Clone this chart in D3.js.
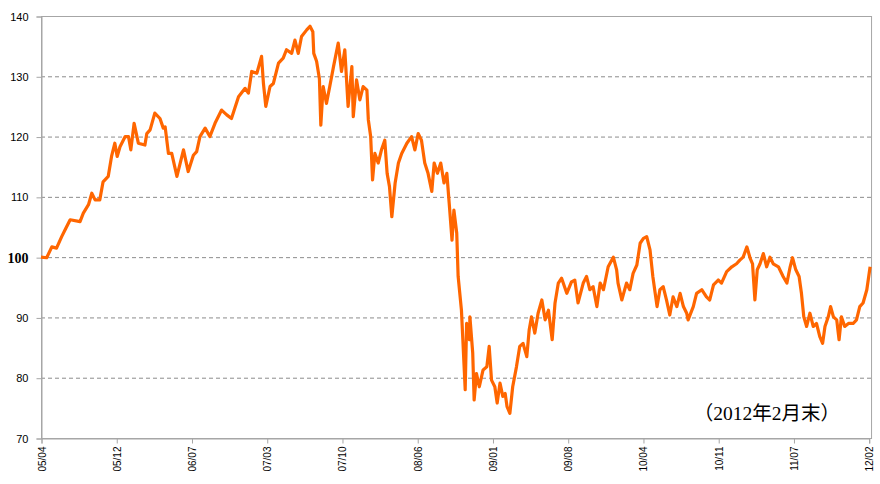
<!DOCTYPE html>
<html><head><meta charset="utf-8">
<script src="https://cdn.jsdelivr.net/npm/d3@7"></script>
<style>body{margin:0;background:#fff;}svg{display:block;}</style>
</head><body>
<svg id="c" width="880" height="484"></svg>
<script>
// trading-day index (ticks every 160 observations) and index level
const dayIndex = [0,12,23,33,44,51,62,83,90,101,108,115,125,132,143,150,157,162,168,179,186,191,198,207,221,225,232,242,253,260,264,271,278,289,296,303,313,324,331,338,349,359,370,384,395,405,420,434,441,448,459,469,473,478,487,494,505,515,522,533,540,547,554,565,572,578,580,586,592,595,600,607,614,622,632,639,646,653,661,664,671,678,685,693,696,701,705,710,717,724,731,736,741,746,753,760,767,778,788,795,802,809,816,823,831,836,843,850,857,863,868,874,878,884,887,894,897,902,905,911,912,918,921,926,932,940,948,953,958,965,970,976,982,987,991,997,1003,1011,1018,1025,1033,1038,1043,1050,1057,1065,1072,1079,1087,1093,1100,1107,1118,1128,1135,1142,1153,1160,1167,1174,1182,1189,1196,1206,1217,1224,1227,1235,1245,1252,1259,1267,1274,1281,1288,1295,1301,1306,1310,1316,1323,1330,1337,1344,1352,1359,1366,1373,1376,1387,1394,1405,1415,1422,1430,1440,1447,1458,1469,1479,1486,1493,1501,1508,1513,1518,1523,1529,1536,1543,1550,1557,1568,1578,1586,1593,1598,1605,1612,1617,1622,1628,1635,1642,1649,1656,1662,1667,1674,1679,1685,1692,1697,1702,1709,1717,1727,1734,1741,1748,1756,1763];
const level = [100,99.9,101.7,101.5,103.4,104.5,106.2,105.9,107.3,108.7,110.6,109.5,109.5,112.5,113.4,116.7,118.9,116.7,118.3,120,120,117.8,122.2,118.9,118.6,120.5,121.1,123.9,123,121.4,121.6,117.2,117.2,113.4,115.6,117.8,114.2,116.9,117.5,120,121.4,120,122.2,124.4,123.6,123,126.6,128,127.2,130.8,130.5,133.3,128.8,125,128.3,128.8,132.2,133,134.4,133.8,136,133.8,136.6,137.7,138.3,137.4,133.8,132.5,129.6,121.9,128.3,125.5,128.3,131.6,135.5,130.8,134.4,125,131.6,123.3,129.4,126.1,128.3,127.7,122.8,120,112.8,117.2,115.6,117.8,119.4,113.9,111.7,106.7,112.3,115.6,117.2,118.9,120,117.8,120.5,119.4,115.6,113.9,110.9,115.6,113.9,115.6,112.3,113.9,108.9,102.8,107.8,104,96.8,91.2,86.3,78,89,86.3,90.1,84.1,76.3,80.7,78.5,81.3,81.8,85.2,79.6,78.5,75.8,79.1,76.9,77.4,75.2,74.1,78.5,81.8,85.2,85.7,83.5,87.9,90.1,87.4,90.7,92.9,89.6,91.2,86.3,92.4,95.7,96.5,94,95.9,96.2,92.4,95.7,96.8,94.6,95.1,91.8,95.7,94.6,98.4,100,97.9,95.7,92.9,95.7,94.6,97.3,98.7,102.3,103.1,103.4,101.2,96.8,94,91.8,94.6,95.1,92.9,90.4,93.4,91.8,94,91.8,90.7,89.6,91.8,94,94.6,93.4,92.9,95.4,96.2,95.7,97.6,98.4,98.9,99.5,100,101.7,99.8,98.9,92.9,97.9,98.9,100.6,98.4,100,98.9,98.4,96.8,95.7,98.4,99.9,97.9,96.8,94,90.1,88.5,90.7,88.5,89,86.8,85.7,88.5,90.1,91.8,90.1,89.6,86.3,90.1,88.5,89,89,89.6,91.8,92.4,94.6,98.4];
const tickLabels = ["05/04","05/12","06/07","07/03","07/10","08/06","09/01","09/08","10/04","10/11","11/07","12/02"];
const tickStep = 160;
const yTicks = [70,80,90,100,110,120,130,140];
const gridValues = [80,90,100,110,120,130];
const note = "（2012年2月末）";

const svg = d3.select("#c");
const mLeft = 41, mTop = 16, mBottom = 438;
const x = d3.scaleLinear().domain([0, tickStep*(tickLabels.length-1)]).range([mLeft, 868.7]);
const mRight = x(1765);
const y = d3.scaleLinear().domain([70,140]).range([mBottom, mTop]);

// grid
svg.append("g").selectAll("line").data(gridValues).join("line")
  .attr("x1", mLeft).attr("x2", mRight)
  .attr("y1", d=>y(d)+0.5).attr("y2", d=>y(d)+0.5)
  .attr("stroke", "#8c8c8c").attr("stroke-width", 1).attr("stroke-dasharray", "4,3");

// frame
svg.append("rect").attr("x", mLeft+0.5).attr("y", mTop+0.5)
  .attr("width", mRight-mLeft).attr("height", mBottom-mTop)
  .attr("fill", "none").attr("stroke", "#a6a6a6").attr("stroke-width", 1);

// y axis
const yAxis = d3.axisLeft(y).tickValues(yTicks).tickSize(5).tickPadding(8);
const gy = svg.append("g").attr("transform", `translate(${mLeft+0.5},0.5)`).call(yAxis);
gy.select(".domain").attr("stroke", "#a6a6a6");
gy.selectAll(".tick line").attr("stroke", "#a6a6a6");
gy.selectAll(".tick text").attr("fill", "#000")
  .style("font-family", "Arial, 'Liberation Sans', sans-serif").style("font-size", "11px")
  .filter(d => d === 100)
  .style("font-family", "'Times New Roman', 'Liberation Serif', serif")
  .style("font-weight", "bold").style("font-size", "14px");

// x axis
const xAxis = d3.axisBottom(x)
  .tickValues(tickLabels.map((d,i)=>i*tickStep))
  .tickFormat((d,i)=>tickLabels[i]).tickSize(5).tickPadding(4);
const gx = svg.append("g").attr("transform", `translate(0.5,${mBottom+0.5})`).call(xAxis);
gx.select(".domain").attr("stroke", "#a6a6a6");
gx.selectAll(".tick line").attr("stroke", "#a6a6a6");
gx.selectAll(".tick text")
  .style("font-family", "Arial, 'Liberation Sans', sans-serif").style("font-size", "10px").attr("fill", "#000")
  .attr("transform", "rotate(-90)")
  .attr("text-anchor", "end").attr("dy", "0.35em").attr("x", -8).attr("y", 0);

// line
const data = dayIndex.map((d,i)=>({t:d, v:level[i]}));
svg.append("path").datum(data)
  .attr("fill", "none").attr("stroke", "#ff6600").attr("stroke-width", 3.2)
  .attr("stroke-linejoin", "round")
  .attr("d", d3.line().x(d=>x(d.t)).y(d=>y(d.v)));

// note
svg.append("text").attr("x", 767).attr("y", 420).attr("text-anchor", "middle")
  .style("font-family", "'Liberation Serif', 'Noto Sans CJK JP', serif").style("font-size", "19.5px")
  .attr("fill", "#000").text(note);
</script>
</body></html>
